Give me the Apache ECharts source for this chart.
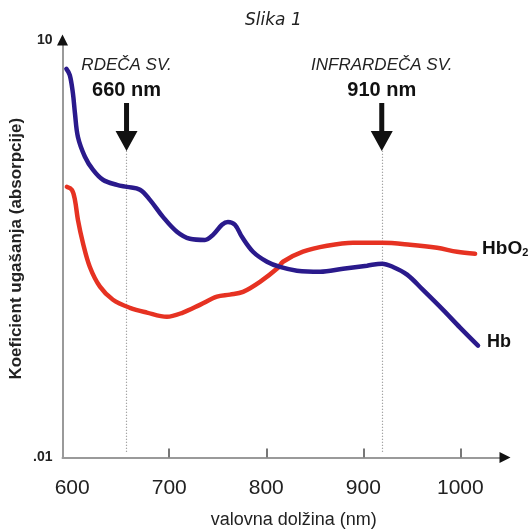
<!DOCTYPE html>
<html><head><meta charset="utf-8">
<script src="https://cdn.jsdelivr.net/npm/echarts@6/dist/echarts.min.js"></script>
<style>html,body{margin:0;padding:0;background:#fff}#c{width:532px;height:530px}</style>
</head><body><div id="c"></div>
<script>
// Hb (deoxyhemoglobin) – wavelength (nm) and extinction coefficient
const hbWavelength = [594, 597.5, 600.7, 602.8, 605.9, 613.1, 621.3, 631.6, 646.1, 656.4, 669.8, 680.1, 693.5, 707.9, 721.3, 736.8, 745.1, 754.3, 760.5, 767.7, 774.9, 786.3, 800.7, 814.1, 831.6, 855.4, 879.1, 903.8, 919.3, 930.6, 945.1, 961.5, 982.2, 999.7, 1018.2];
const hbValue = [6.2, 5.6, 4.16, 2.99, 2.01, 1.45, 1.17, 0.99, 0.91, 0.88, 0.84, 0.71, 0.536, 0.419, 0.373, 0.366, 0.398, 0.47, 0.493, 0.47, 0.385, 0.301, 0.255, 0.234, 0.22, 0.216, 0.227, 0.239, 0.247, 0.234, 0.206, 0.16, 0.115, 0.0857, 0.0636];
// HbO2 (oxyhemoglobin)
const hbo2Wavelength = [594.5, 599.7, 602.8, 605.9, 611.0, 618.2, 628.6, 642.0, 659.5, 677.0, 697.6, 714.1, 731.6, 749.2, 762.6, 776.0, 793.5, 812.1, 817.2, 837.8, 862.6, 889.4, 919.3, 948.1, 976.0, 996.6, 1015.2];
const hbo2Value = [0.881, 0.838, 0.71, 0.51, 0.349, 0.234, 0.169, 0.136, 0.119, 0.11, 0.1026, 0.11, 0.125, 0.143, 0.148, 0.155, 0.183, 0.231, 0.255, 0.301, 0.332, 0.349, 0.349, 0.338, 0.321, 0.301, 0.291];

const xLabelValues = [600, 700, 800, 900, 1000];
const xTickValues = [700, 800, 900, 1000];
const yLabelValues = [0.01, 10];
const yLabelText = ['.01', '10'];

const markerWavelength = [656, 919];
const markerTitle = ['RDEČA SV.', 'INFRARDEČA SV.'];
const markerNm = ['660 nm', '910 nm'];

const zip = (xs, ys) => xs.map((x, i) => [x, ys[i]]);

const chart = echarts.init(document.getElementById('c'), null, {renderer: 'canvas'});

const arrowPath = 'path://M8.5,0L13.5,0L13.5,28L22,28L11,48L0,28L8.5,28Z';

const option = {
  animation: false,
  backgroundColor: '#fff',
  title: {
    text: 'Slika 1', left: 240, top: 7,
    textStyle: {fontFamily: 'DejaVu Sans', fontStyle: 'italic', fontWeight: 'normal', fontSize: 17, color: '#222'}
  },
  grid: {left: 62.5, right: 27, top: 40, bottom: 72.5, containLabel: false, outerBoundsMode: 'none'},
  xAxis: [{
    type: 'value', min: 590, max: 1046, position: 'bottom',
    axisLine: {show: true, lineStyle: {color: '#9a9a9a', width: 2}},
    axisTick: {show: true, inside: true, length: 9, lineStyle: {color: '#777', width: 2}, customValues: xTickValues},
    axisLabel: {customValues: xLabelValues, formatter: v => String(Math.round(v)), fontFamily: 'Liberation Sans', fontSize: 21, color: '#222', margin: 20},
    splitLine: {show: false},
    name: 'valovna dolžina (nm)', nameLocation: 'middle', nameGap: 54, nameMoveOverlap: false,
    nameTextStyle: {fontFamily: 'Liberation Sans', fontSize: 18, color: '#222', padding: [0, 0, 0, 20]}
  }, {
    type: 'value', min: 590, max: 1046, position: 'bottom', offset: 0,
    axisLine: {show: true, lineStyle: {color: '#111', width: 0}, symbol: ['none', 'triangle'], symbolSize: [11, 11]},
    axisTick: {show: false}, axisLabel: {show: false}, splitLine: {show: false}
  }],
  yAxis: [{
    type: 'log', logBase: 10, min: 0.01, max: 10, position: 'left',
    axisLine: {show: true, lineStyle: {color: '#9a9a9a', width: 2}},
    axisTick: {show: false},
    splitLine: {show: false},
    axisLabel: {
      fontFamily: 'Liberation Sans', fontWeight: 'bold', fontSize: 14, color: '#222', margin: 10,
      formatter: v => {
        const i = yLabelValues.findIndex(t => Math.abs(Math.log10(t) - Math.log10(v)) < 1e-6);
        return i >= 0 ? yLabelText[i] : '';
      }
    },
    name: 'Koeficient ugašanja (absorpcije)', nameLocation: 'middle', nameRotate: 90, nameGap: 38, nameMoveOverlap: false,
    nameTextStyle: {fontFamily: 'Liberation Sans', fontWeight: 'bold', fontSize: 17, color: '#222'}
  }, {
    type: 'log', logBase: 10, min: 0.01, max: 10, position: 'left', offset: 0,
    axisLine: {show: true, lineStyle: {color: '#111', width: 0}, symbol: ['none', 'triangle'], symbolSize: [11, 11]},
    axisTick: {show: false}, axisLabel: {show: false}, splitLine: {show: false}
  }],
  series: [{
    name: 'HbO2', type: 'line', data: zip(hbo2Wavelength, hbo2Value),
    xAxisIndex: 0, yAxisIndex: 0,
    smooth: 0.35, showSymbol: false, symbol: 'none',
    lineStyle: {color: '#e63222', width: 4.5, cap: 'round'},
    endLabel: {
      show: true, distance: 7, offset: [0, -5],
      formatter: '{a|HbO}{s|2}',
      rich: {
        a: {fontFamily: 'Liberation Sans', fontWeight: 'bold', fontSize: 19, color: '#111'},
        s: {fontFamily: 'Liberation Sans', fontWeight: 'bold', fontSize: 11, color: '#111', verticalAlign: 'bottom'}
      }
    },
    z: 3
  }, {
    name: 'Hb', type: 'line', data: zip(hbWavelength, hbValue),
    xAxisIndex: 0, yAxisIndex: 0,
    smooth: 0.35, showSymbol: false, symbol: 'none',
    lineStyle: {color: '#2a1a8c', width: 4.5, cap: 'round'},
    endLabel: {
      show: true, distance: 9, offset: [0, -4],
      formatter: 'Hb',
      fontFamily: 'Liberation Sans', fontWeight: 'bold', fontSize: 18, color: '#111'
    },
    z: 3,
    markLine: {
      silent: true, symbol: 'none', label: {show: false},
      lineStyle: {color: '#888', width: 1.2, type: [1, 2]},
      data: markerWavelength.map(w => [{coord: [w, 0.011]}, {coord: [w, 1.62]}]),
      z: 1
    },
    markPoint: {
      silent: true,
      symbol: arrowPath, symbolSize: [22, 48], symbolKeepAspect: false,
      itemStyle: {color: '#111'},
      label: {
        show: true, position: 'top', distance: 0, align: 'center',
        rich: {
          t: {fontFamily: 'Liberation Sans', fontStyle: 'italic', fontSize: 17, color: '#222', lineHeight: 25, align: 'center'},
          n: {fontFamily: 'Liberation Sans', fontWeight: 'bold', fontSize: 20, color: '#111', lineHeight: 25, align: 'center'}
        }
      },
      data: markerWavelength.map((w, i) => ({
        coord: [w, 2.37],
        label: {formatter: '{t|' + markerTitle[i] + '}\n{n|' + markerNm[i] + '}'}
      }))
    }
  }]
};
chart.setOption(option);
</script>
</body></html>
